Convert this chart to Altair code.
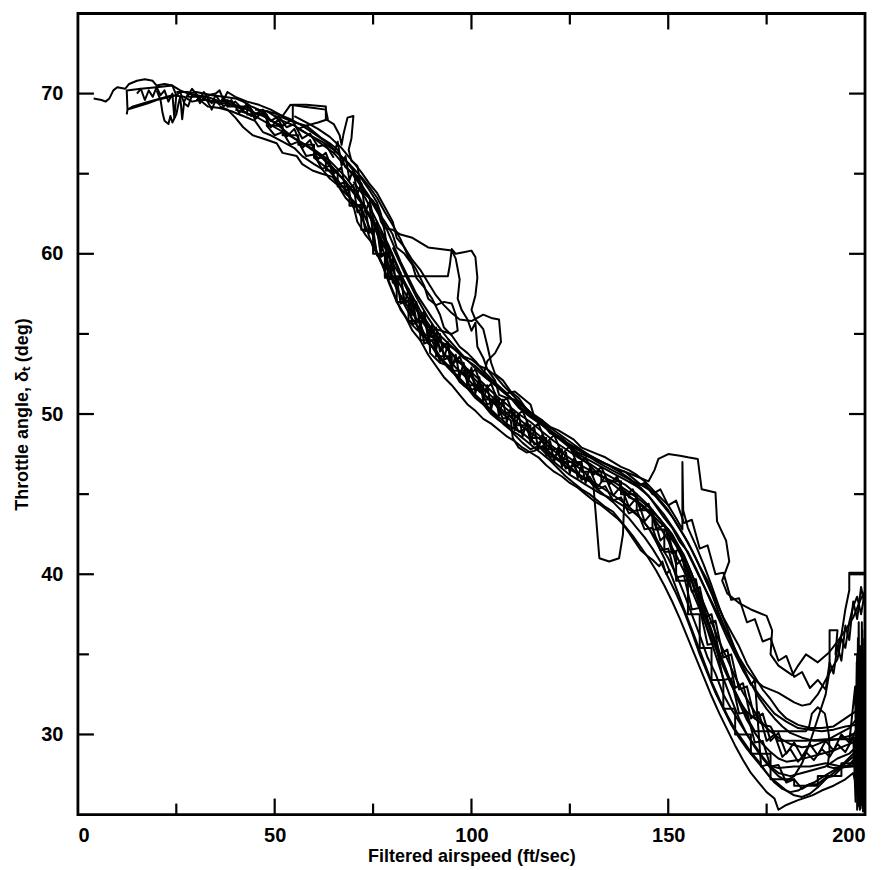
import altair as alt
import pandas as pd

# ---------------- data: throttle angle vs filtered airspeed, one list per flight run ----------------
run01 = [(4,69.7),(6,69.6),(7,69.5),(8,69.7),(9,70.2),(10,70.4),(12,70.3),(13,70.6),(15,70.8),(17,70.9),(19,70.8),(20,70.5),(22,70.6),(24,70.5),(26,70.2),(28,70.0),(30,69.9),(33,69.8),(36,69.5),(38,69.6),(40,69.3),(43,69.0),(45,68.8),(48,68.5),(50,68.2),(53,67.6),(55,67.2),(57,66.9),(60,66.4),(62,66.0),(64,65.5),(66,65.0),(68,64.5),(70,63.8),(72,63.2),(74,62.5),(76,61.7),(78,60.8),(80,59.8),(82,58.7),(84,57.8),(86,56.9),(88,56.0),(90,55.3),(92,54.6),(95,53.8),(98,53.0),(100,52.4),(103,51.6),(106,50.9),(109,50.3),(112,49.7),(115,49.1),(118,48.5),(121,47.9),(124,47.4),(127,46.9),(130,46.5),(133,46.1),(136,45.8),(139,45.3),(142,44.8),(145,44.2),(148,43.4),(151,42.5),(153,41.6),(155,40.6),(157,39.4),(159,38.2),(161,37.0),(163,35.8),(165,34.7),(167,33.6),(169,32.6),(171,31.8),(173,31.0),(175,30.4),(178,29.8),(181,29.4),(184,29.2),(187,29.3),(190,29.6),(193,30.0),(196,30.4),(198,31.0),(199,29.0),(199.5,33.0)]

run02 = [(12.4,68.7),(12.6,69.0),(12.4,70.2),(16,70.3),(20,70.4),(24,70.5),(25,69.9),(20,69.6),(17.8,69.4),(12.6,69.0),(14,69.2),(18,69.5),(21,69.7),(24,69.9),(27,69.8),(29,69.5),(31,69.6),(33,69.2),(36,69.1),(39,68.9),(42,68.6),(45,68.3),(47,67.6),(49,67.4),(52,67.0),(55,66.6),(57,66.1),(60,65.6),(62,65.3),(64,64.7),(66,64.3),(68,63.5),(70,63.0),(71,62.0),(73,61.2),(75,60.6),(77,59.5),(79,58.9),(81,57.8),(83,57.0),(85,56.3),(87,55.6),(89,54.4),(91,54.0),(93,53.2),(96,52.5),(99,51.7),(101,51.2),(104,50.5),(107,49.8),(110,49.2),(113,48.8),(116,48.2),(119,47.7),(122,47.1),(126,46.4),(129,46.0),(132,45.6),(135,45.1),(138,44.6),(141,44.0),(144,43.2),(147,42.2),(150,41.0),(152,40.0),(154,38.8),(156,37.5),(158,36.2),(160,34.8),(162,33.8),(164,32.5),(166,31.6),(168,30.8),(170,30.0),(172,29.3),(174,28.6),(176,28.0),(178,27.6),(181,27.4),(184,27.6),(187,27.8),(190,28.0),(193,28.5),(196,28.8),(198,29.3),(199,27.0),(199.5,31.0),(199.8,26.5)]

run03 = [(20,70.2),(21,69.6),(21.5,68.8),(22,68.3),(23,68.1),(23.5,68.6),(24,68.2),(25,68.7),(25.5,69.3),(26,69.8),(26.5,68.4),(27,69.5),(28,70.0),(30,70.1),(32,70.0),(34,69.9),(37,69.8),(40,69.7),(42,69.5),(44,69.2),(46,69.0),(48,68.9),(50,68.6),(52,68.5),(55,68.2),(58,68.0),(60,67.6),(62,67.2),(64,66.9),(66,66.5),(67,66.0),(68,65.4),(70,65.0),(72,64.4),(73,63.8),(75,63.3),(76,62.7),(78,62.0),(80,61.2),(81,60.4),(83,60.0),(85,59.3),(86,58.5),(88,57.9),(90,57.2),(92,56.2),(93,55.4),(95,54.9),(97,54.2),(99,53.8),(101,53.3),(103,52.7),(105,52.2),(108,51.5),(110,51.0),(112,50.4),(115,49.8),(118,49.3),(121,48.7),(124,48.1),(127,47.5),(130,47.1),(133,46.7),(136,46.3),(139,45.9),(142,45.5),(145,44.9),(147,44.2),(149,43.5),(151,42.9),(153,42.0),(155,41.4),(157,40.4),(159,39.3),(161,38.2),(163,37.1),(165,36.0),(167,35.0),(169,34.0),(171,33.2),(173,32.5),(175,31.9),(177,31.3),(180,30.8),(183,30.4),(186,30.3),(189,30.2),(192,30.3),(195,30.5),(198,30.6),(199,32.0),(199.6,28.0)]

run04 = [(30,69.6),(33,69.6),(36,69.4),(38,69.4),(41,69.1),(44,68.6),(46,68.8),(49,68.3),(52,68.0),(54.6,68.4),(54.6,69.3),(58,69.3),(63,69.2),(63,68.4),(65,68.1),(66.5,67.4),(67,66.8),(67.5,67.5),(68.5,68.5),(70,68.6),(69.5,67.2),(68.8,66.5),(69.5,65.8),(71,65.5),(72,64.0),(73,63.7),(74,63.5),(76,63.0),(77,62.0),(78,61.6),(80,61.5),(82,61.2),(85,61.0),(87,60.7),(89,60.4),(92,60.3),(95,60.2),(96,59.7),(97,58.4),(96.5,57.2),(97.5,56.5),(99,55.9),(100,55.2),(101,55.7),(101.5,54.2),(103,53.5),(104,52.8),(106,52.4),(108,51.8),(110,51.3),(112,50.8),(115,50.1),(118,49.6),(120,48.9),(123,48.4),(126,47.9),(129,47.5),(132,47.0),(135,46.6),(138,46.2),(141,45.8),(144,45.5),(146,45.2),(148,44.6),(150,44.0),(152,43.2),(154,42.4),(156,41.5),(158,40.5),(160,39.6),(162,38.4),(164,37.3),(166,36.4),(168,35.5),(170,34.4),(172,33.6),(174,32.8),(176,32.2),(178,31.5),(180,31.0),(183,30.6),(186,30.4),(189,30.4),(192,30.5),(195,31.0),(198,31.5),(199.5,33.5),(199,30.0)]

run05 = [(40,69.0),(45,68.6),(50,67.9),(55,67.2),(60,66.5),(64,65.6),(68,64.5),(71,63.6),(74,62.4),(77,61.0),(79,59.8),(82,58.6),(84,57.6),(86,56.5),(88,55.6),(90,54.9),(93,53.8),(96,52.9),(99,52.2),(102,51.4),(105,50.9),(108,50.2),(111,49.6),(114,49.0),(117,48.5),(120,47.9),(123,47.3),(126,46.9),(129,46.3),(131,45.5),(131.5,44.0),(132,42.5),(132.5,41.0),(135,40.8),(137.5,41.0),(138.5,42.5),(138.8,44.5),(139,45.2),(140,44.8),(142,44.6),(144,44.2),(146,43.7),(148,43.2),(150,42.8),(152,42.0),(154,41.2),(156,40.0),(158,38.7),(160,37.2),(162,35.8),(164,34.5),(166,33.2),(168,32.0),(170,30.9),(172,30.1),(174,29.4),(176,28.9),(178,28.5),(180,28.3),(183,28.4),(186,28.6),(189,28.8),(192,29.0),(195,29.3),(198,29.6),(199,31.5),(199.5,27.5),(199.8,30.0)]

run06 = [(50,68.5),(55,68.0),(60,67.2),(65,66.3),(70,64.9),(74,63.5),(78,61.8),(82,59.5),(86,57.5),(90,56.0),(94,54.7),(98,53.6),(102,52.6),(106,51.8),(110,51.0),(114,50.3),(118,49.5),(122,48.8),(126,48.1),(130,47.4),(134,46.9),(138,46.5),(142,46.1),(145,45.8),(146.5,46.5),(147.5,47.2),(150,47.5),(153,47.4),(155,47.3),(157.5,47.2),(158.5,45.3),(162,45.1),(162.4,43.3),(164.7,42.1),(165.5,40.8),(163.7,39.6),(165,38.8),(168,38.2),(171,37.8),(175,37.4),(176.4,36.5),(176,35.0),(178,34.3),(181.5,33.7),(183,34.3),(185,35.0),(188,34.5),(190.8,35.1),(193,35.8),(195,36.5),(197,37.3),(199,38.5),(200,38.9)]

run07 = [(36,69.2),(38,69.0),(40,68.5),(42,67.9),(44.4,67.4),(47,67.2),(50.5,66.9),(52,66.3),(55.6,66.1),(57,65.6),(59.6,65.2),(62,65.0),(64.7,64.8),(67,64.0),(70,63.3),(72.3,62.7),(75,61.1),(76,60.0),(77.5,59.2),(79,58.3),(80.5,57.4),(82,56.5),(84,55.8),(86,55.3),(88,54.9),(90,54.2),(92,53.5),(94,52.9),(96,52.4),(98,51.8),(100,51.4),(102,50.9),(104,50.4),(106,49.9),(108,49.4),(110,49.0),(112,48.7),(114,48.3),(116,47.9),(118,47.5),(120,47.1),(122,46.6),(124,46.1),(126,45.7),(128,45.3),(130,45.0),(132,44.6),(134,44.2),(136,43.9),(138,43.3),(140,42.6),(141.9,41.9),(143,41.5),(144.4,41.2),(146,40.9),(147.7,40.5),(148.5,40.8),(149.5,40.0),(150.5,40.3)]

run08 = [(60,66.0),(63,65.4),(66,64.6),(69,63.6),(71,62.8),(73,61.8),(75,60.4),(77,59.6),(79,58.2),(81,57.0),(83,56.2),(85,55.2),(87,54.6),(89,53.7),(91,53.0),(93,52.3),(95,51.8),(97,51.2),(99,50.6),(101,50.2),(103,49.7),(105,49.4),(107,49.0),(109,48.6),(111,48.3),(113,47.9),(115,47.6),(117,47.3),(119,46.8),(121,46.4),(123,46.1),(125,45.7),(127,45.4),(129,45.0),(131,44.6),(133,44.3),(135,43.9),(137,43.5),(139,43.0),(141,42.4),(143,41.7),(145,41.0),(147,40.2),(149,39.3),(151,38.3),(153,37.2),(155,36.0),(157,34.8),(159,33.6),(161,32.4),(163,31.3),(165,30.3),(167,29.3),(169,28.4),(171,27.6),(173,27.0),(175,26.4),(177,26.0),(178,25.3),(180,25.6),(183,25.9),(186.6,26.2),(189,26.5),(192,26.8),(195,27.2),(197,27.6),(198.5,26.0),(199.2,28.5),(199.6,25.5)]

run09 = [(45,69.0),(48,68.9),(51,68.7),(54,68.4),(57,68.0),(60,67.5),(63,67.0),(66,66.3),(69,65.6),(72,64.8),(74,64.2),(76,63.5),(78,62.6),(80,61.8),(82,60.9),(84,59.8),(86,59.0),(88,58.0),(89,57.2),(91,56.8),(93,57.0),(95,56.9),(96,56.2),(96.5,55.2),(95,55.0),(91,55.3),(89,55.2),(89.3,54.9),(92,54.5),(94,54.3),(96,54.0),(98,53.6),(100,53.4),(102,53.0),(104,52.8),(106,52.1),(107,51.2),(109,51.0),(111,50.9),(113,50.5),(115,49.9),(117,49.5),(119,49.1),(121,48.8),(123,48.5),(125,48.0),(127,47.6),(129,47.4),(131,47.2),(133,47.0),(135,46.8),(137,46.5),(139,46.4),(141,46.0),(143,45.6),(145,45.3),(147,44.8),(149,44.2),(151,43.6),(153,42.8),(155,42.0),(157,41.0),(159,39.9),(161,38.8),(163,37.5),(165,36.3),(167,35.2),(169,34.2),(171,33.2),(173,32.3),(175,31.6),(177,31.0),(179,30.5),(181,30.1),(184,29.8),(187,29.6),(190,29.6),(193,29.7),(196,29.9),(198.5,30.2),(199,34.0),(199.5,28.5),(199.8,36.0)]

run10 = [(70,64.5),(73,63.5),(76,62.0),(79,60.5),(82,58.8),(85,57.0),(88,55.8),(91,54.8),(94,54.0),(97,53.2),(100,52.6),(103,51.9),(106,51.2),(109,50.6),(112,50.0),(115,49.5),(118,48.9),(121,48.3),(124,47.8),(127,47.3),(130,46.9),(133,46.4),(136,46.0),(139,45.6),(142,45.0),(145,44.3),(148,43.4),(151,42.3),(153,41.3),(155,40.3),(157,39.0),(159,37.6),(161,36.3),(163,35.0),(165,33.8),(167,32.7),(169,31.7),(170.6,30.8),(172,30.2),(178,30.2),(185,30.2),(185.8,30.5),(186.5,31.3),(188,31.7),(189.8,31.3),(190.8,30.0),(191,29.0),(190.5,28.0),(192,27.9),(197,28.0),(198.5,29.5),(199,26.5),(199.4,31.0),(199.8,27.0)]

run11 = [(55,68.6),(58,68.2),(61,67.8),(64,67.3),(67,66.6),(70,65.7),(72,65.1),(74,64.4),(76,63.8),(78,62.9),(80,62.0),(81,61.0),(83,60.4),(85,59.6),(87,59.0),(89,58.2),(91,57.4),(93,56.8),(95,56.3),(97,55.9),(100,55.8),(103,56.2),(105,56.0),(107,55.9),(107.5,54.5),(106,53.8),(104,53.3),(103,52.4),(105,52.0),(107,51.7),(109,51.3),(111,51.4),(113,51.0),(115,50.6),(116,49.8),(118,49.6),(120,49.2),(122,49.0),(124,48.7),(126,48.4),(128,47.9),(130,47.7),(132,47.5),(134,47.3),(136,47.0),(138,46.7),(140,46.5),(142,46.2),(144,45.8),(146,45.3),(148,44.8),(150,44.3),(152,43.5),(153.6,42.8),(153.6,47.0),(153.8,44.0),(155,42.9),(157,41.8),(159,40.6),(161,39.3),(163,37.9),(165,36.6),(167,35.3),(169,34.1),(171,33.1),(172,33.4),(173.6,28.0),(175,28.1),(178,27.9),(182,28.0),(186,28.0),(190,28.2),(194,28.0),(197,28.1),(198,31.0),(198.7,26.5),(199.2,34.0),(199.6,29.0)]

run12 = [(25,70.1),(28,70.1),(28,69.8),(33,69.8),(33,69.5),(38,69.5),(38,69.2),(43,69.2),(43,68.7),(48,68.7),(48,68.0),(52,68.0),(52,67.4),(56,67.4),(56,66.8),(60,66.8),(60,66.0),(63,66.0),(63,65.2),(66,65.2),(66,64.2),(69,64.2),(69,63.0),(72,63.0),(72,61.5),(75,61.5),(75,60.0),(78,60.0),(78,58.5),(81,58.5),(81,57.0),(84,57.0),(84,55.8),(87,55.8),(87,54.6),(91,54.6),(91,53.6),(95,53.6),(95,52.7),(99,52.7),(99,51.8),(103,51.8),(103,50.9),(107,50.9),(107,50.1),(111,50.1),(111,49.3),(115,49.3),(115,48.5),(119,48.5),(119,47.8),(123,47.8),(123,47.0),(128,47.0),(128,46.4),(133,46.4),(133,45.8),(138,45.8),(138,45.0),(142,45.0),(142,44.0),(146,44.0),(146,42.8),(149,42.8),(149,41.4),(152,41.4),(152,39.6),(155,39.6),(155,37.5),(158,37.5),(158,35.4),(161,35.4),(161,33.4),(164,33.4),(164,31.6),(167,31.6),(167,30.0),(171,30.0),(171,28.8),(176,28.8),(176,27.2),(182,27.2),(182,26.8),(188,26.8),(188,27.4),(194,27.4),(194,28.2),(198,28.2),(198,25.3),(199,33.0),(199.5,26.0)]

run13 = [(33,69.9),(35,70.0),(36,70.2),(37,69.6),(38,70.1),(40,69.8),(43,69.5),(46,69.3),(49,69.0),(52,68.6),(54,69.3),(57,69.2),(60,69.1),(63,69.0),(63.5,68.4),(61,68.2),(58,68.0),(56,67.8),(59,67.4),(62,67.0),(65,66.5),(68,65.8),(70,65.2),(72,64.3),(74,63.6),(75,62.2),(76,61.5),(77.5,60.5),(79,60.2),(80,59.0),(81,58.4),(83,57.6),(85,56.8),(86,55.6),(87,55.0),(89,54.6),(91,53.8),(93,53.3),(95,52.8),(97,52.0),(99,51.6),(101,51.0),(103,50.6),(105,50.0),(107,49.6),(109,49.3),(111,48.7),(113,48.2),(115,47.8),(117,48.0),(119,47.5),(121,47.0),(123,46.6),(125,46.2),(127,45.9),(129,45.6),(131,45.3),(133,45.0),(135,44.8),(137,44.5),(139,44.2),(141,43.9),(143,43.5),(145,42.9),(147,42.0),(149,41.0),(151,39.8),(153,38.5),(155,37.2),(157,35.9),(159,34.6),(161,33.3),(163,32.2),(165,31.2),(167,30.3),(169,29.6),(171,28.9),(173,28.3),(175,27.6),(177,27.0),(179,26.6),(181,26.4),(183,26.5),(185,26.8),(187,27.0),(189,27.3),(191,27.6),(193,27.9),(195,28.3),(197,28.8),(198.5,30.0),(199,25.8),(199.5,32.0),(199.8,29.0)]

run14 = [(80,60.4),(83,58.8),(86,57.3),(89,56.0),(92,54.9),(95,54.2),(98,53.5),(101,53.0),(104,52.3),(107,51.6),(110,51.0),(113,50.3),(116,49.8),(119,49.2),(122,48.6),(125,48.1),(128,47.7),(131,47.3),(134,46.9),(137,46.5),(140,46.0),(143,45.4),(146,44.6),(149,43.7),(152,42.6),(154,41.8),(156,40.8),(158,39.8),(160,38.8),(162,37.8),(164,36.8),(166,35.8),(168,34.8),(170,34.0),(172,33.4),(174,33.0),(176,32.8),(178,32.6),(180,32.3),(182,32.0),(184,31.8),(186,31.9),(188,32.5),(190,33.4),(192,34.3),(193,34.7),(194,36.0),(195,35.4),(196,37.0),(197,38.0),(198,38.6),(199,37.5),(200,39.0)]

run15 = [(70,65.0),(72,64.7),(74,64.0),(76,63.2),(77,62.5),(78,61.3),(78.5,60.5),(78,59.5),(78,58.6),(84,58.6),(90,58.6),(94,58.6),(94.5,59.3),(95,60.3),(96,60.0),(98,60.1),(100,60.2),(101,59.8),(101.5,58.5),(101,57.4),(100,56.5),(101,55.9),(103,55.3),(104,54.3),(105,53.2),(106,52.5),(108,52.1),(110,51.4),(112,51.0),(114,50.3),(116,49.9),(118,49.4),(120,48.8),(122,48.6),(124,48.2),(126,47.6),(128,47.2),(130,46.8),(132,46.3),(134,46.0),(136,45.6),(138,45.2),(140,44.9),(142,44.5),(144,44.1),(146,43.6),(148,42.9),(150,42.1),(152,41.2),(154,40.2),(156,39.0),(158,37.8),(160,36.6),(162,35.4),(164,34.2),(166,33.1),(168,32.1),(170,31.4),(172,31.0),(174,30.6),(176,30.5),(178,29.6),(180,29.6),(185,29.6),(190,29.7),(195,29.7),(198.5,29.8),(199,35.5),(199.3,27.0),(199.7,33.0),(200,28.0)]

run16 = [(150,42.5),(152,41.8),(154,40.8),(156,39.5),(158,38.0),(160,36.5),(162,35.0),(164,33.5),(166,32.2),(168,31.0),(170,30.0),(172,29.2),(174,28.5),(176,27.9),(178,27.4),(180,27.1),(182,27.4),(184,28.2),(186,29.5),(188,31.0),(190,32.5),(191,34.0),(191,36.5),(193,36.5),(192.5,35.0),(194,36.2),(195,37.8),(196,39.0),(196,40.1),(200,40.1)]

run17 = [(60,66.5),(64,65.8),(68,64.8),(71,63.8),(73,62.8),(75,61.9),(77,60.6),(79,59.2),(81,57.9),(83,56.8),(85,55.9),(87,55.3),(88.5,54.9),(89.3,54.9),(89.5,53.8),(92,53.2),(94.4,53.0),(96,53.3),(98,53.1),(100,52.3),(102,51.5),(104,51.0),(106,50.6),(108,50.0),(110,49.6),(110.5,48.5),(112,47.9),(114,47.6),(116,47.7),(118,48.0),(120,47.6),(122,47.2),(124,46.9),(126,46.5),(128,46.0),(130,45.8),(132,45.3),(134,44.9),(136,44.5),(138,44.0),(140,43.5),(142,42.9),(144,42.3),(146,41.6),(148,40.8),(150,39.8),(152,38.8),(154,37.7),(156,36.4),(158,35.0),(160,33.8),(162,32.6),(164,31.6),(166,30.6),(168,29.8),(170,29.1),(172,28.5),(174,27.9),(176,27.3),(178,26.9),(180,26.5),(182,26.2),(184,26.1),(186,26.3),(188,26.7),(190,27.2),(192,27.6),(194,28.0),(196,28.4),(198,28.8),(199,31.5),(199.5,25.2),(200,30.5)]

run18 = [(196,29.5),(197.5,33.0),(197.8,26.5),(198.2,36.0),(198.5,25.5),(198.8,34.0),(199,27.0),(199.2,37.0),(199.4,26.0),(199.6,35.0),(199.8,28.0),(200,38.5),(199.7,25.2),(199.5,31.0),(199.9,26.0),(199.3,33.5),(199.1,29.5),(198.9,25.4),(198.6,32.5),(198.3,27.5),(198.0,35.0),(197.7,28.5)]

run19 = [(28,69.9),(29,70.3),(31,69.7),(32,70.1),(34,69.4),(35,69.9),(37,69.2),(39,69.6),(41,68.8),(43,69.3),(45,68.4),(47,68.9),(49,67.9),(51,68.4),(53,67.3),(55,67.8),(57,66.6),(59,67.1),(61,65.9),(63,66.3),(65,65.0),(67,65.4),(68,63.9),(70,64.3),(71,62.6),(73,63.0),(74,61.3),(76,61.6),(77,59.8),(79,60.1),(80,58.2),(82,58.6),(83,56.9),(85,57.3),(86,55.8),(88,56.4),(89,54.8),(91,55.4),(92,53.9),(94,54.5),(95,53.1),(97,53.6),(99,52.3),(101,52.8),(103,51.4),(105,51.9),(107,50.6),(109,51.0),(111,49.8),(113,50.2),(115,49.0),(117,49.4),(119,48.2),(121,48.7),(123,47.5),(125,48.0),(127,46.8),(129,47.3),(131,46.2),(133,46.7),(135,45.6),(137,46.1),(139,44.9),(141,45.3),(143,44.0),(145,44.4),(147,42.8),(149,43.1),(151,41.3),(153,41.6),(155,39.5),(157,39.7),(159,37.3),(161,37.5),(163,35.0),(165,35.3),(167,32.9),(169,33.2),(171,31.0),(173,31.4),(175,29.6),(177,30.0),(179,28.6),(181,29.1),(183,28.3),(185,28.9),(187,28.4),(189,29.1),(191,28.6),(193,29.4),(195,28.9),(197,29.8),(198.5,27.5),(199.3,32.5),(199.8,26.2)]

run20 = [(48,68.0),(50,67.4),(52,67.6),(54,66.8),(56,67.0),(58,66.1),(60,66.2),(62,65.3),(64,65.5),(66,64.3),(68,64.5),(70,62.9),(72,63.1),(73,61.4),(75,61.6),(76,59.9),(78,60.0),(79,58.4),(81,58.5),(82,56.9),(84,57.1),(85,55.6),(87,55.8),(88,54.4),(90,54.6),(92,53.3),(94,53.5),(96,52.4),(98,52.6),(100,51.5),(102,51.7),(104,50.6),(106,50.8),(108,49.7),(110,49.9),(112,48.9),(114,49.1),(116,48.1),(118,48.3),(120,47.3),(122,47.5),(124,46.6),(126,46.8),(128,45.9),(130,46.1),(132,45.3),(134,45.5),(136,44.6),(138,44.8),(140,43.8),(142,44.0),(144,42.8),(146,42.9),(148,41.5),(150,41.6),(152,39.8),(154,39.9),(156,37.8),(158,37.9),(160,35.6),(162,35.7),(164,33.4),(166,33.5),(168,31.3),(170,31.4),(172,29.5),(174,29.6),(176,28.0),(178,28.1),(180,27.0),(182,27.2),(184,26.6),(186,26.9),(188,26.9),(190,27.3),(192,27.4),(194,27.9),(196,28.1),(198,28.7),(199,25.6),(199.6,30.5)]

run21 = [(65,66.2),(66,67.0),(67,65.5),(68,66.1),(69,64.6),(70,65.3),(71,63.7),(72,64.4),(73,62.6),(74,63.2),(75,61.2),(76,62.0),(77,60.1),(78,60.9),(79,59.0),(80,59.7),(81,57.8),(82,58.8),(83,56.9),(84,57.8),(85,56.2),(86,57.0),(87,55.4),(88,56.2),(89,54.7),(90,55.6),(91,54.0),(92,55.0),(93,53.5),(94,54.3),(95,52.8),(96,53.7),(97,52.3),(98,53.2),(99,51.8),(100,52.9),(101,51.3),(102,52.3),(103,50.8),(104,51.8),(105,50.3),(106,51.3),(107,49.9),(108,50.9),(109,49.5),(110,50.4),(111,49.0),(112,50.0),(113,48.6),(114,49.5),(115,48.2),(116,49.1),(117,47.8),(118,48.7),(119,47.4),(120,48.3),(121,47.0),(122,47.9),(123,46.7),(124,47.6),(125,46.3),(126,47.2),(127,46.0),(128,46.9),(129,45.7),(130,46.6),(132,45.4),(134,46.1),(136,44.9),(138,45.5),(140,44.2),(142,44.8),(144,43.3),(146,43.9),(148,42.1),(150,42.6),(152,40.6),(154,41.0),(156,38.9),(158,39.2),(160,36.9),(162,37.1),(164,34.8),(166,35.0),(168,32.8),(170,33.0),(172,31.0),(174,31.3),(176,29.6),(178,30.1),(180,28.8),(182,29.5),(184,28.6),(186,29.4),(188,28.7),(190,29.6),(192,29.0),(194,30.0),(196,29.5),(198,30.4),(199,28.0),(199.5,34.0)]

run22 = [(140,45.8),(142,45.5),(144,45.7),(146,45.0),(148,45.3),(150,44.3),(152,44.6),(154,43.2),(156,43.4),(158,41.6),(160,41.8),(162,40.0),(164,40.1),(166,38.4),(168,38.5),(170,37.0),(172,37.2),(174,35.8),(176,36.0),(178,34.6),(180,34.9),(182,33.6),(184,33.9),(186,32.9),(188,33.4),(190,32.8),(191,34.5),(192,33.8),(193,35.5),(194,34.6),(195,36.8),(196,35.9),(197,38.3),(198,37.2),(199,39.2),(200,38.0)]

run23 = [(197,30.0),(197.6,25.8),(197.9,34.5),(198.1,26.2),(198.4,37.0),(198.7,25.3),(198.9,35.5),(199.1,25.6),(199.3,36.5),(199.5,25.4),(199.7,34.0),(199.9,26.8),(200,36.0),(199.8,25.2),(199.6,33.0),(199.4,27.2),(199.2,35.0),(199.0,26.0),(198.8,32.0),(198.6,27.0),(198.4,31.5),(198.2,25.5)]

run24 = [(15,70.0),(16,70.3),(17,69.6),(18,70.2),(19,69.8),(20,70.4),(21,69.9),(22,70.2),(23,69.5),(24,70.0),(24.5,68.5),(25,69.9),(26,70.1),(27,69.4),(28,69.2),(29,69.9),(30,70.0),(31,69.4),(32,69.8),(33,69.5),(34,69.0),(35,69.6),(36,69.3),(37,69.8),(38,69.2),(40,69.5),(42,69.0),(43,69.4),(45,68.7),(47,69.0),(49,68.3),(51,68.6),(53,67.9),(55,68.1),(57,67.2),(59,67.5),(61,66.7),(63,66.8),(65,66.0)]

RUNS = [run01, run02, run03, run04, run05, run06, run07, run08, run09, run10, run11, run12,
        run13, run14, run15, run16, run17, run18, run19, run20, run21, run22, run23, run24]

X_MAJOR = [50, 100, 150]
X_MINOR = [25, 75, 125, 175]
Y_MAJOR = [30, 40, 50, 60, 70]
Y_MINOR = [35, 45, 55, 65]
X_LABELS = [0, 50, 100, 150, 200]
Y_LABELS = [30, 40, 50, 60, 70]

X_TITLE = "Filtered airspeed (ft/sec)"
Y_TITLE = "Throttle angle, \u03b4\u209c (deg)"

# ---------------- build tables ----------------
rows = []
for r, pts in enumerate(RUNS):
    for i, (xv, yv) in enumerate(pts):
        rows.append({"run": r, "i": i, "x": xv, "y": yv})
df = pd.DataFrame(rows)

W, H = 788, 802
FONT = "Liberation Sans"

xs = alt.Scale(domain=[0, 200], nice=False, zero=False)
ys = alt.Scale(domain=[25, 75], nice=False, zero=False)
AX = alt.Axis(values=X_LABELS, grid=False, domain=False, ticks=False,
              tickSize=0, labelPadding=11, titlePadding=2)
AY = alt.Axis(values=Y_LABELS, grid=False, domain=False, ticks=False,
              tickSize=0, labelPadding=15, titlePadding=9)

lines = alt.Chart(df).mark_line(color="black", strokeWidth=2.0, clip=True,
                                strokeJoin="round").encode(
    x=alt.X("x:Q", scale=xs, title=X_TITLE, axis=AX),
    y=alt.Y("y:Q", scale=ys, title=Y_TITLE, axis=AY),
    detail="run:N",
    order="i:Q",
)

def xticks(vals, length):
    d = pd.DataFrame({"x": vals})
    enc = alt.X("x:Q", scale=xs, title=X_TITLE, axis=AX)
    bottom = alt.Chart(d).mark_rule(color="black", strokeWidth=2.2).encode(
        x=enc, y=alt.value(H), y2=alt.value(H - length))
    top = alt.Chart(d).mark_rule(color="black", strokeWidth=2.2).encode(
        x=enc, y=alt.value(0), y2=alt.value(length))
    return [bottom, top]

def yticks(vals, length):
    d = pd.DataFrame({"y": vals})
    enc = alt.Y("y:Q", scale=ys, title=Y_TITLE, axis=AY)
    left = alt.Chart(d).mark_rule(color="black", strokeWidth=2.2).encode(
        y=enc, x=alt.value(0), x2=alt.value(length))
    right = alt.Chart(d).mark_rule(color="black", strokeWidth=2.2).encode(
        y=enc, x=alt.value(W), x2=alt.value(W - length))
    return [left, right]

layers = [lines] + xticks(X_MAJOR, 16) + xticks(X_MINOR, 11) + yticks(Y_MAJOR, 16) + yticks(Y_MINOR, 11)

chart = alt.layer(*layers).properties(
    width=W, height=H,
    autosize=alt.AutoSizeParams(type="none"),
    padding={"left": 70, "top": 5, "right": 12, "bottom": 58},
).configure_view(
    stroke="black", strokeWidth=2.8
).configure_axis(
    labelFont=FONT, titleFont=FONT, labelFontSize=20, titleFontSize=18,
    labelFontWeight="bold", titleFontWeight="bold",
    labelColor="black", titleColor="black",
)

chart.save("out.html", embed_options={"renderer": "svg", "actions": False})
